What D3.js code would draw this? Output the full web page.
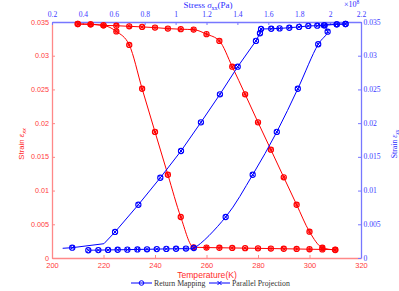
<!DOCTYPE html>
<html><head><meta charset="utf-8">
<script src="https://cdn.jsdelivr.net/npm/d3@7"></script>
<style>body{margin:0;background:#fff}svg{display:block}</style>
</head><body>
<svg id="c" width="399" height="291"></svg>
<script>
// ---- data ----
const tempTicks = [200, 220, 240, 260, 280, 300, 320];
const stressTicks = [0.2, 0.4, 0.6, 0.8, 1, 1.2, 1.4, 1.6, 1.8, 2, 2.2];
const strainTicks = [0, 0.005, 0.01, 0.015, 0.02, 0.025, 0.03, 0.035];

// red: strain vs temperature
const temps = [210,215,220,225,230,235,240,245,250,255,260,265,270,275,280,285,290,295,300,305,310];
const redCoolStrain = [0.0347,0.03466,0.0345,0.0336,0.0316,0.0251,0.0187,0.01235,0.00608,0.00159,
  0.00155,0.00152,0.00149,0.00146,0.00143,0.0014,0.00137,0.00134,0.0013,0.00127,0.00124];
const redHeatStrain = [0.0347,0.03466,0.0345,0.03445,0.03436,0.03427,0.03417,0.03402,0.03393,0.03387,
  0.0332,0.0322,0.02837,0.02428,0.02012,0.01606,0.01197,0.0079,0.0039,0.00153,0.00119];

// blue: strain vs stress (x1e8 Pa)
const blueLoadStress = [0.269,0.331,0.536,0.608,0.759,0.901,1.035,1.164,1.287,1.402,1.520,1.546,1.553,
  1.619,1.673,1.736,1.799,1.859,1.917,1.96,2.043,2.10];
const blueLoadStrain = [0.00144,0.00153,0.00212,0.00386,0.0079,0.0119,0.01587,0.02012,0.02428,0.02837,0.0322,0.03333,0.03396,
  0.0340,0.03405,0.03415,0.03427,0.03442,0.03445,0.0345,0.03466,0.0347];
const blueLoadUnmarked = [0, 2];
const blueUnloadStress = [0.435,0.500,0.563,0.625,0.688,0.753,0.815,0.878,0.940,1.003,1.067,1.118,
  1.324,1.499,1.655,1.791,1.923,1.984,1.965,2.043,2.10];
const blueUnloadStrain = [0.00115,0.00117,0.0012,0.00122,0.00124,0.00127,0.00129,0.00132,0.00135,0.00137,0.0014,0.00148,
  0.00608,0.01235,0.0187,0.0251,0.0317,0.03356,0.0345,0.03466,0.0347];

const legendNames = ["Return Mapping", "Parallel Projection"];

// ---- drawing ----
const RED = "#ff0000", BLUE = "#0000ff";
const svg = d3.select("#c");
const xT = d3.scaleLinear().domain([200, 320]).range([52, 361]);
const xS = d3.scaleLinear().domain([0.2, 2.2]).range([52, 361]);
const y = d3.scaleLinear().domain([0, 0.035]).range([258, 22]);

const sans = "'Liberation Sans', Arial, sans-serif";
const serif = "'Liberation Serif', 'Times New Roman', serif";

function styleAxis(g, lineColor, textColor, font, size) {
  g.select(".domain").attr("stroke", lineColor).attr("stroke-width", 1.3);
  g.selectAll(".tick line").attr("stroke", lineColor);
  g.selectAll(".tick text").attr("fill", textColor).attr("font-family", font).attr("font-size", size);
}
const fmt = d3.format("~g");

svg.append("g").attr("transform", "translate(0,258)")
  .call(d3.axisBottom(xT).tickValues(tempTicks).tickSizeInner(-3).tickSizeOuter(0).tickPadding(5).tickFormat(fmt))
  .call(g => styleAxis(g, "#ff8888", "#ff3a3a", sans, 7.5));
svg.append("g").attr("transform", "translate(52,0)")
  .call(d3.axisLeft(y).tickValues(strainTicks).tickSizeInner(-3).tickSizeOuter(0).tickPadding(3).tickFormat(fmt))
  .call(g => styleAxis(g, "#ff8888", "#ff3a3a", sans, 7.2))
  .call(g => g.selectAll(".tick text").attr("dy", "0.28em"));
svg.append("g").attr("transform", "translate(0,22)")
  .call(d3.axisTop(xS).tickValues(stressTicks).tickSizeInner(-3).tickSizeOuter(0).tickPadding(5).tickFormat(fmt))
  .call(g => styleAxis(g, "#7777ff", "#3a3aff", serif, 7.6));
svg.append("g").attr("transform", "translate(361,0)")
  .call(d3.axisRight(y).tickValues(strainTicks).tickSizeInner(-3).tickSizeOuter(0).tickPadding(2.5).tickFormat(fmt))
  .call(g => styleAxis(g, "#7777ff", "#3a3aff", serif, 7.6))
  .call(g => g.selectAll(".tick text").attr("dy", "0.28em"));

// titles
svg.append("text").attr("x", 207).attr("y", 278).attr("text-anchor", "middle")
  .attr("font-family", sans).attr("font-size", 8.6).attr("fill", "#ff2a2a").text("Temperature(K)");
const tt = svg.append("text").attr("x", 208).attr("y", 8).attr("text-anchor", "middle")
  .attr("font-family", serif).attr("font-size", 9).attr("fill", "#2a2aff");
tt.append("tspan").text("Stress ");
tt.append("tspan").attr("font-style", "italic").text("σ");
tt.append("tspan").attr("font-size", 6).attr("dy", 2).text("xx");
tt.append("tspan").attr("dy", -2).text("(Pa)");
const ex = svg.append("text").attr("x", 344).attr("y", 7)
  .attr("font-family", serif).attr("font-size", 8).attr("fill", "#2a2aff");
ex.append("tspan").text("×10");
ex.append("tspan").attr("font-size", 5.5).attr("dy", -3).text("8");

function yTitle(x, font, color, size) {
  const t = svg.append("text").attr("transform", `translate(${x},144) rotate(-90)`)
    .attr("text-anchor", "middle").attr("font-family", font).attr("font-size", size).attr("fill", color);
  t.append("tspan").text("Strain ");
  t.append("tspan").attr("font-style", "italic").text("ε");
  t.append("tspan").attr("font-size", 5.5).attr("dy", 2).attr("font-style", "italic").text("xx");
}
yTitle(24, sans, "#ff2a2a", 7.8);
yTitle(397, serif, "#2a2aff", 7.8);

// series
function drawSeries(xs, ys, xScale, color, curve, unmarked, asterisk) {
  const pts = xs.map((v, i) => [xScale(v), y(ys[i]), i]);
  svg.append("path").attr("d", d3.line().curve(curve)(pts.map(p => [p[0], p[1]])))
    .attr("fill", "none").attr("stroke", color).attr("stroke-width", 1);
  const m = svg.append("g").selectAll("g").data(pts.filter(p => !unmarked.includes(p[2]))).join("g")
    .attr("transform", p => `translate(${p[0]},${p[1]})`);
  m.append("circle").attr("r", 2.6).attr("fill", "none").attr("stroke", color).attr("stroke-width", 1.1);
  m.append("path").attr("d", "M-2,-2L2,2M-2,2L2,-2").attr("stroke", color).attr("stroke-width", 1);
  if (asterisk) m.append("path").attr("d", "M0,-2.6V2.6M-2.6,0H2.6").attr("stroke", color).attr("stroke-width", 0.8);
}
drawSeries(temps, redCoolStrain, xT, RED, d3.curveMonotoneX, [], true);
drawSeries(temps, redHeatStrain, xT, RED, d3.curveMonotoneX, [], true);
drawSeries(blueLoadStress, blueLoadStrain, xS, BLUE, d3.curveLinear, blueLoadUnmarked, false);
drawSeries(blueUnloadStress, blueUnloadStrain, xS, BLUE, d3.curveCatmullRom.alpha(0.5), [], false);

// legend
const lg = svg.append("g").attr("transform", "translate(0,283)");
const lx = [131, 209];
legendNames.forEach((name, i) => {
  const g = lg.append("g").attr("transform", `translate(${lx[i]},0)`);
  g.append("line").attr("x1", 0).attr("x2", 21).attr("stroke", BLUE).attr("stroke-width", 1);
  if (i === 0) g.append("circle").attr("cx", 10.5).attr("r", 2.3).attr("fill", "none").attr("stroke", BLUE).attr("stroke-width", 1);
  else g.append("path").attr("d", "M8.5,-2L12.5,2M8.5,2L12.5,-2").attr("stroke", BLUE).attr("stroke-width", 1);
  g.append("text").attr("x", 23).attr("y", 2.6).attr("font-family", serif).attr("font-size", 7.8)
    .attr("fill", "#333").text(name);
});
</script>
</body></html>
